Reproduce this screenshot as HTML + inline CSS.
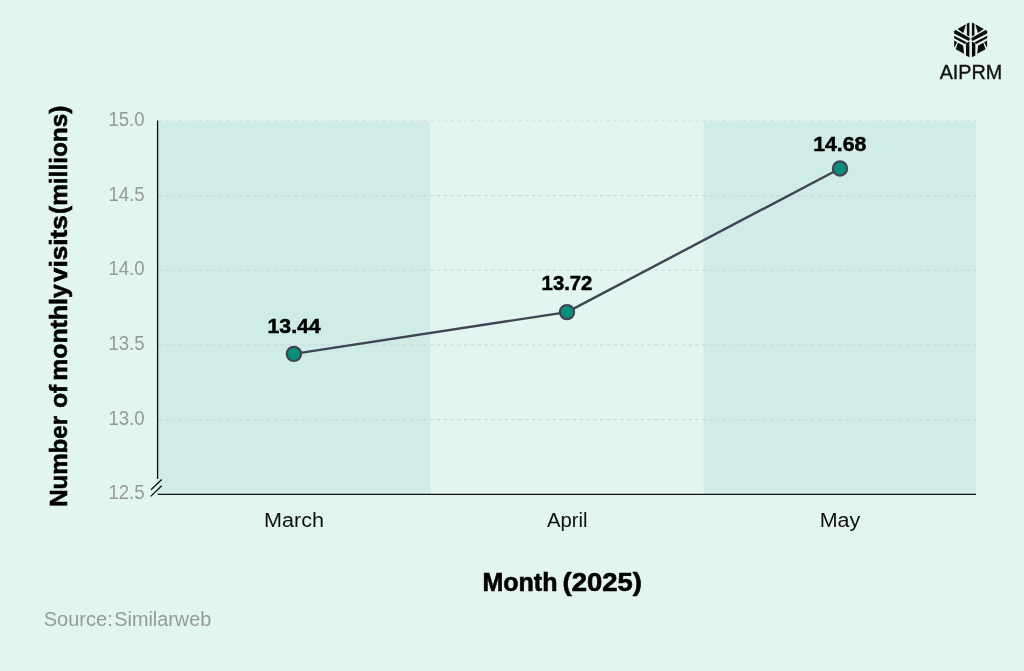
<!DOCTYPE html>
<html lang="en">
<head>
<meta charset="utf-8">
<title>Monthly visits</title>
<style>
html,body{margin:0;padding:0;background:#e2f5f1;}
body{width:1024px;height:671px;overflow:hidden;font-family:"Liberation Sans",sans-serif;}
svg{display:block;}
text{font-family:"Liberation Sans",sans-serif;}
.tick{font-size:20.5px;fill:#969a99;}
.xl{font-size:20px;fill:#111;}
.dl{font-size:20px;font-weight:bold;fill:#000;stroke:#000;stroke-width:0.5px;}
.ttl{font-size:25px;font-weight:bold;fill:#000;stroke:#000;stroke-width:0.6px;}
.yt text{font-size:24.5px;}
</style>
</head>
<body>
<svg width="1024" height="671" viewBox="0 0 1024 671">
  <rect x="0" y="0" width="1024" height="671" fill="#e2f5f1"/>
  <!-- bands -->
  <rect x="157.6" y="121.4" width="272.8" height="373" fill="#d0ece7"/>
  <rect x="703.6" y="121.4" width="272.4" height="373" fill="#d0ece7"/>
  <!-- gridlines -->
  <g stroke="#cbd0ce" stroke-width="0.9" stroke-dasharray="3.4 3.4" fill="none">
    <line x1="158" y1="120.9" x2="976" y2="120.9" stroke="#d3dad8"/>
    <line x1="158" y1="195.6" x2="976" y2="195.6"/>
    <line x1="158" y1="270.2" x2="976" y2="270.2"/>
    <line x1="158" y1="345" x2="976" y2="345"/>
    <line x1="158" y1="419.6" x2="976" y2="419.6"/>
  </g>
  <!-- axes -->
  <g stroke="#111" stroke-width="1.3" fill="none" stroke-linecap="butt">
    <line x1="157.6" y1="120.5" x2="157.6" y2="479"/>
    <line x1="157.6" y1="494.4" x2="976" y2="494.4" stroke-width="1.4"/>
    <line x1="151" y1="489.8" x2="161.7" y2="479.5"/>
    <line x1="150.7" y1="496.4" x2="161.7" y2="485.7"/>
  </g>
  <!-- y ticks -->
  <g class="tick" text-anchor="end">
    <text x="144.6" y="126.1" textLength="36.2" lengthAdjust="spacingAndGlyphs">15.0</text>
    <text x="144.6" y="200.7" textLength="36.2" lengthAdjust="spacingAndGlyphs">14.5</text>
    <text x="144.6" y="275.4" textLength="36.2" lengthAdjust="spacingAndGlyphs">14.0</text>
    <text x="144.6" y="350" textLength="36.2" lengthAdjust="spacingAndGlyphs">13.5</text>
    <text x="144.6" y="424.7" textLength="36.2" lengthAdjust="spacingAndGlyphs">13.0</text>
    <text x="144.6" y="499.4" textLength="36.2" lengthAdjust="spacingAndGlyphs">12.5</text>
  </g>
  <!-- line -->
  <polyline points="293.9,353.9 567,312.1 840,168.5" fill="none" stroke="#3f4554" stroke-width="2.4" stroke-linejoin="round"/>
  <g fill="#0a8f7b" stroke="#3f4554" stroke-width="2.2">
    <circle cx="293.9" cy="353.9" r="7.1"/>
    <circle cx="567" cy="312.1" r="7.1"/>
    <circle cx="840" cy="168.5" r="7.1"/>
  </g>
  <!-- data labels -->
  <g class="dl" text-anchor="middle">
    <text x="294.1" y="333.3" textLength="53.2" lengthAdjust="spacingAndGlyphs">13.44</text>
    <text x="567" y="289.9" textLength="50.8" lengthAdjust="spacingAndGlyphs">13.72</text>
    <text x="839.8" y="151" textLength="53.2" lengthAdjust="spacingAndGlyphs">14.68</text>
  </g>
  <!-- x labels -->
  <g class="xl" text-anchor="middle">
    <text x="294.1" y="527" textLength="60" lengthAdjust="spacingAndGlyphs">March</text>
    <text x="567.2" y="527" textLength="40.6" lengthAdjust="spacingAndGlyphs">April</text>
    <text x="840" y="527" textLength="40.6" lengthAdjust="spacingAndGlyphs">May</text>
  </g>
  <!-- titles -->
  <g class="ttl">
    <text x="482.47" y="590.9" textLength="75.02" lengthAdjust="spacingAndGlyphs">Month</text>
    <text x="562.59" y="590.9" textLength="79.35" lengthAdjust="spacingAndGlyphs">(2025)</text>
  </g>
  <g class="ttl yt" transform="translate(66.5,506.6) rotate(-90)">
    <text x="-0.27" y="0" textLength="90.94" lengthAdjust="spacingAndGlyphs">Number</text>
    <text x="98.6" y="0" textLength="23.36" lengthAdjust="spacingAndGlyphs">of</text>
    <text x="125.77" y="0" textLength="96.58" lengthAdjust="spacingAndGlyphs">monthly</text>
    <text x="224.66" y="0" textLength="66.57" lengthAdjust="spacingAndGlyphs">visits</text>
    <text x="292.62" y="0" textLength="108.46" lengthAdjust="spacingAndGlyphs">(millions)</text>
  </g>
  <g font-size="20" fill="#969a99">
    <text x="43.72" y="626.2" textLength="69.03" lengthAdjust="spacingAndGlyphs">Source:</text>
    <text x="114.33" y="626.2" textLength="96.89" lengthAdjust="spacingAndGlyphs">Similarweb</text>
  </g>
  <!-- logo -->
  <svg x="952" y="20" width="38" height="40" viewBox="0 0 637 671"><g fill="#0a0a0a">
    <polygon points="249,64 291,42 291,276 249,253"/>
    <polygon points="376,64 334,42 334,276 376,253"/>
    <polygon points="234,72 93,152 190,216"/>
    <polygon points="391,72 532,152 435,216"/>
    <polygon points="35,184 62,166 298,302 298,324 282,354 35,228"/>
    <polygon points="590,184 563,166 327,302 327,324 343,354 590,228"/>
    <polygon points="35,266 247,372 218,402 35,308"/>
    <polygon points="590,266 378,372 407,402 590,308"/>
    <polygon points="234,388 291,360 291,623 234,596"/>
    <polygon points="391,388 334,360 334,623 391,596"/>
    <polygon points="35,343 87,372 38,464"/>
    <polygon points="590,343 538,372 587,464"/>
    <polygon points="99,383 187,428 202,567 63,491"/>
    <polygon points="526,383 438,428 423,567 562,491"/>
  </g></svg>
  <text x="971" y="79.4" font-size="20" fill="#111" stroke="#111" stroke-width="0.35" text-anchor="middle" textLength="62.6" lengthAdjust="spacingAndGlyphs">AIPRM</text>
</svg>
</body>
</html>
